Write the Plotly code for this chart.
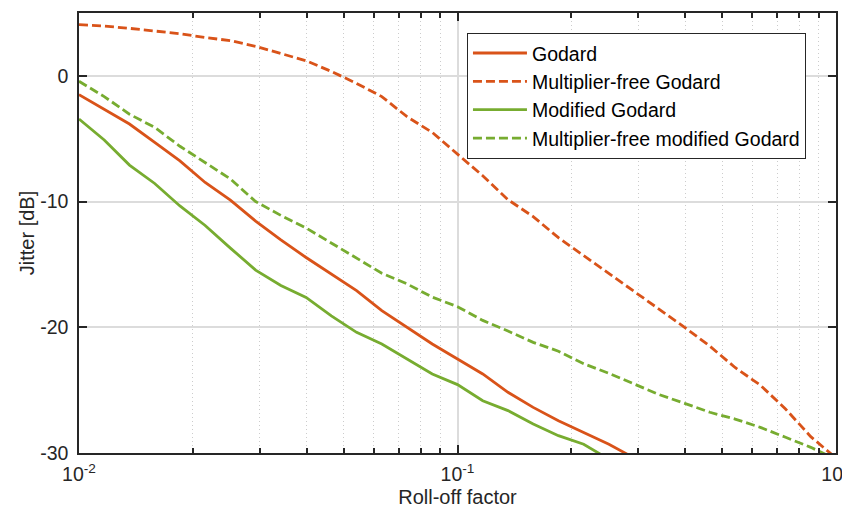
import plotly.graph_objects as go

# Roll-off factor grid (log-spaced, 31 points from 1e-2 to 1e0)
roll_off = [0.01, 0.011659, 0.013594, 0.015849, 0.018478, 0.021544, 0.025119,
            0.029286, 0.034145, 0.039811, 0.046416, 0.054117, 0.063096, 0.073564,
            0.08577, 0.1, 0.11659, 0.13594, 0.15849, 0.18478, 0.21544, 0.25119,
            0.29286, 0.34145, 0.39811, 0.46416, 0.54117, 0.63096, 0.73564,
            0.8577, 1.0]

godard = [-1.49, -2.63, -3.83, -5.3, -6.76, -8.48, -9.89, -11.55, -13.05,
          -14.45, -15.75, -17.08, -18.67, -20.0, -21.33, -22.52, -23.71,
          -25.17, -26.37, -27.43, -28.35, -29.3, -30.4]

mf_godard = [4.07, 3.96, 3.78, 3.56, 3.35, 3.05, 2.8, 2.35, 1.8, 1.2, 0.35,
             -0.6, -1.65, -3.25, -4.5, -6.2, -7.95, -9.85, -11.2, -12.87,
             -14.3, -15.7, -17.2, -18.6, -20.0, -21.5, -23.2, -24.6, -26.5,
             -28.7, -30.4]

mod_godard = [-3.43, -5.1, -7.1, -8.56, -10.35, -11.9, -13.7, -15.45, -16.68,
              -17.62, -19.1, -20.4, -21.33, -22.55, -23.71, -24.56, -25.84,
              -26.63, -27.69, -28.62, -29.3, -30.5]

mf_mod_godard = [-0.43, -1.65, -3.05, -4.1, -5.6, -6.9, -8.2, -10.0, -11.1,
                 -12.1, -13.3, -14.45, -15.7, -16.55, -17.6, -18.36, -19.45,
                 -20.3, -21.2, -21.9, -22.9, -23.66, -24.5, -25.36, -26.05,
                 -26.76, -27.3, -27.96, -28.75, -29.55, -30.5]

series_names = ["Godard", "Multiplier-free Godard", "Modified Godard",
                "Multiplier-free modified Godard"]

x_tick_vals = [0.01, 0.1, 1]
x_tick_text = ["10<sup>-2</sup>", "10<sup>-1</sup>", "10<sup>0</sup>"]
y_tick_vals = [-30, -20, -10, 0]
y_tick_text = ["-30", "-20", "-10", "0"]

ORANGE = "#D95319"
GREEN = "#77AC30"
AX = "#262626"
FONT = "Liberation Sans, Arial, sans-serif"
FS = 20

fig = go.Figure()
specs = [(godard, ORANGE, "solid"), (mf_godard, ORANGE, "9px,4px"),
         (mod_godard, GREEN, "solid"), (mf_mod_godard, GREEN, "9px,4px")]
for name, (ys, col, dash) in zip(series_names, specs):
    fig.add_trace(go.Scatter(x=roll_off[:len(ys)], y=ys, mode="lines", name=name,
                             line=dict(color=col, width=2.8, dash=dash)))

minor_vals = [m * d for d in (0.01, 0.1) for m in range(2, 10)]

# the page body has an 8px margin, so the figure is sized to fit the window
fig.update_layout(
    width=842, height=511,
    margin=dict(l=71, r=14, t=5, b=66),
    paper_bgcolor="white", plot_bgcolor="white",
    font=dict(family=FONT, size=FS, color=AX),
    showlegend=True,
    legend=dict(x=0.5125, y=0.955, xanchor="left", yanchor="top",
                bgcolor="white", bordercolor=AX, borderwidth=1,
                font=dict(family=FONT, size=FS - 0.5, color="black"), tracegroupgap=0,
                itemwidth=54),
)
fig.update_xaxes(
    type="log", range=[-2, 0], automargin=False,
    tickvals=x_tick_vals, ticktext=x_tick_text,
    ticks="inside", ticklen=8, tickwidth=1.5, tickcolor=AX,
    ticklabelstandoff=3, ticklabeloverflow="allow",
    showline=True, linecolor=AX, linewidth=1.5, mirror="allticks",
    showgrid=True, gridcolor="#dcdcdc", gridwidth=2,
    zeroline=False,
    minor=dict(tickvals=minor_vals, ticks="inside", ticklen=5, tickcolor=AX,
               showgrid=True, gridcolor="#cccccc", griddash="1px,3px", gridwidth=1),
    tickfont=dict(family=FONT, size=FS - 0.5, color=AX),
    title=dict(text="Roll-off factor", font=dict(family=FONT, size=FS, color=AX), standoff=6),
)
fig.update_yaxes(
    range=[-30, 5], tickvals=y_tick_vals, ticktext=y_tick_text, automargin=False,
    ticks="inside", ticklen=8, tickwidth=1.5, tickcolor=AX,
    ticklabelstandoff=5, ticklabeloverflow="allow",
    showline=True, linecolor=AX, linewidth=1.5, mirror="allticks",
    showgrid=True, gridcolor="#dcdcdc", gridwidth=2,
    zeroline=False,
    tickfont=dict(family=FONT, size=FS - 0.5, color=AX),
    title=dict(text="Jitter [dB]", font=dict(family=FONT, size=FS, color=AX), standoff=0),
)

fig.write_html("out.html")
